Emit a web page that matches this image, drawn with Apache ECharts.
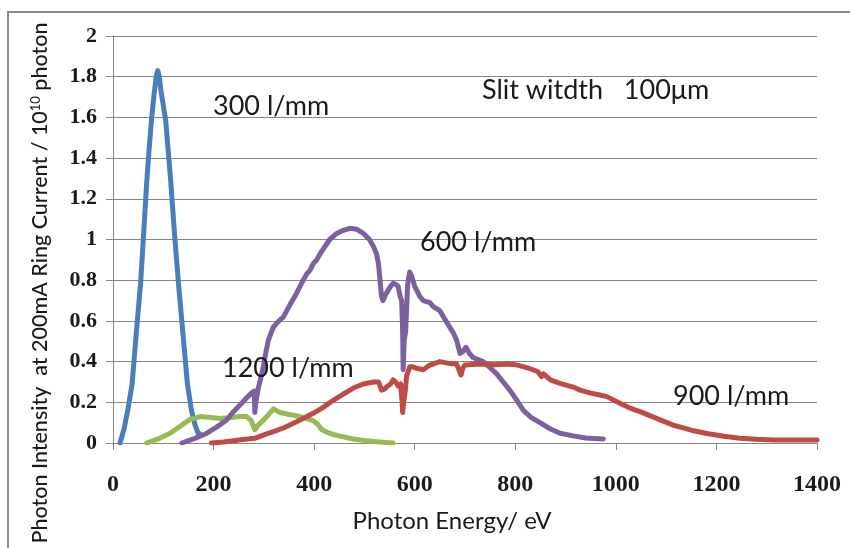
<!DOCTYPE html>
<html><head><meta charset="utf-8">
<script src="https://cdn.jsdelivr.net/npm/echarts@6/dist/echarts.min.js"></script>
<style>html,body{margin:0;padding:0;background:#fff}#c{width:850px;height:548px}</style>
</head><body><div id="c"></div>
<script>
// ---- data ----
const xTicks = [0, 200, 400, 600, 800, 1000, 1200, 1400];
const yTicks = [0, 0.2, 0.4, 0.6, 0.8, 1, 1.2, 1.4, 1.6, 1.8, 2];

const e300 = [14, 22, 30, 38, 46, 55, 61, 67, 72, 77, 82, 86, 89, 92, 96, 100, 105, 110, 115, 122, 130, 139, 148, 156, 163, 169, 175];
const v300 = [0, 0.07, 0.17, 0.29, 0.53, 0.79, 1.03, 1.28, 1.45, 1.6, 1.72, 1.8, 1.83, 1.8, 1.72, 1.66, 1.58, 1.43, 1.28, 1.04, 0.79, 0.54, 0.29, 0.16, 0.09, 0.05, 0.04];

const e1200 = [67, 90, 115, 135, 153, 173, 195, 213, 235, 252, 266, 275, 282, 289, 298, 306, 313, 319, 326, 332, 350, 372, 385, 398, 408, 415, 430, 451, 478, 504, 530, 557];
const v1200 = [0, 0.02, 0.05, 0.085, 0.116, 0.13, 0.125, 0.12, 0.125, 0.13, 0.13, 0.11, 0.065, 0.088, 0.11, 0.13, 0.15, 0.168, 0.158, 0.15, 0.14, 0.13, 0.12, 0.11, 0.09, 0.066, 0.048, 0.034, 0.02, 0.011, 0.005, 0];

const e600 = [137, 160, 186, 206, 226, 240, 252, 265, 275, 281, 282, 284, 289, 294, 299, 304, 309, 319, 330, 339, 352, 365, 375, 385, 392, 398, 405, 412, 420, 431, 445, 458, 471, 485, 498, 510, 518, 524, 528, 531, 534, 537, 542, 547, 552, 557, 562, 567, 571, 574, 576, 577, 579, 582, 586, 590, 594, 600, 604, 610, 617, 630, 637, 650, 657, 667, 677, 684, 690, 696, 702, 709, 716, 726, 736, 750, 763, 776, 789, 803, 816, 832, 849, 869, 889, 915, 940, 975];
const v600 = [0, 0.02, 0.047, 0.078, 0.113, 0.155, 0.185, 0.22, 0.245, 0.255, 0.15, 0.2, 0.27, 0.32, 0.375, 0.445, 0.506, 0.57, 0.6, 0.62, 0.68, 0.735, 0.785, 0.83, 0.85, 0.88, 0.9, 0.93, 0.96, 1.0, 1.03, 1.045, 1.055, 1.05, 1.03, 1.0, 0.965, 0.93, 0.88, 0.8, 0.72, 0.7, 0.73, 0.75, 0.77, 0.785, 0.78, 0.77, 0.72, 0.7, 0.55, 0.36, 0.5, 0.55, 0.78, 0.84, 0.82, 0.77, 0.75, 0.72, 0.7, 0.69, 0.67, 0.65, 0.62, 0.58, 0.54, 0.5, 0.44, 0.45, 0.47, 0.44, 0.42, 0.41, 0.4, 0.37, 0.34, 0.3, 0.26, 0.21, 0.16, 0.125, 0.1, 0.07, 0.048, 0.035, 0.025, 0.02];

const e900 = [196, 220, 250, 282, 300, 319, 340, 359, 378, 398, 418, 438, 458, 478, 498, 518, 528, 534, 540, 546, 552, 557, 562, 567, 572, 575, 576, 578, 581, 584, 590, 595, 604, 617, 630, 650, 670, 683, 688, 692, 696, 700, 730, 760, 783, 800, 816, 835, 845, 852, 856, 870, 889, 915, 929, 950, 968, 982, 1008, 1030, 1048, 1081, 1114, 1150, 1181, 1215, 1247, 1280, 1313, 1350, 1400];
const v900 = [0, 0.005, 0.015, 0.023, 0.04, 0.056, 0.075, 0.097, 0.12, 0.146, 0.175, 0.21, 0.24, 0.27, 0.29, 0.3, 0.3, 0.26, 0.265, 0.28, 0.29, 0.31, 0.3, 0.28, 0.29, 0.2, 0.15, 0.2, 0.25, 0.33, 0.375, 0.375, 0.367, 0.36, 0.383, 0.4, 0.39, 0.39, 0.36, 0.334, 0.37, 0.383, 0.388, 0.385, 0.388, 0.385, 0.375, 0.36, 0.35, 0.326, 0.34, 0.31, 0.293, 0.275, 0.26, 0.245, 0.236, 0.228, 0.195, 0.17, 0.154, 0.121, 0.088, 0.063, 0.047, 0.033, 0.023, 0.018, 0.015, 0.015, 0.015];

const labels = ['300 l/mm', '600 l/mm', '900 l/mm', '1200 l/mm'];
const noteText = 'Slit witdth   100\u03bcm';
const xTitle = 'Photon Energy/ eV';
const yTitleParts = ['Photon Intensity  at 200mA Ring Current / 10', '10', ' photon'];

// ---- build ----
const zip = (a, b) => a.map((x, i) => [x, b[i]]);
const FONT = 'Lato';
const gray = '#868686';
const ink = '#1a1a1a';

function line(name, e, v, color) {
  return { name, type: 'line', data: zip(e, v), showSymbol: false, symbol: 'none',
    lineStyle: { color, width: 5, join: 'round', cap: 'round' }, itemStyle: { color },
    animation: false, z: 3 };
}
function anno(text, x, y, size) {
  return { type: 'text', x, y, z: 10, silent: true,
    style: { text, fill: ink, fontFamily: FONT, fontSize: size, verticalAlign: 'middle', align: 'left' } };
}

const chart = echarts.init(document.getElementById('c'), null, { renderer: 'canvas' });
chart.setOption({
  backgroundColor: '#fff',
  animation: false,
  grid: { left: 113, right: 33, top: 36, bottom: 105, containLabel: false },
  xAxis: {
    type: 'value', min: 0, max: 1400, interval: 200,
    name: xTitle, nameLocation: 'middle', nameGap: 66,
    nameTextStyle: { fontFamily: FONT, fontSize: 24, color: ink, padding: [0, 26, 0, 0] },
    axisLine: { show: true, lineStyle: { color: gray, width: 1 } },
    axisTick: { show: true, inside: false, length: 7, lineStyle: { color: gray } },
    axisLabel: { margin: 30, fontFamily: 'Liberation Serif', fontWeight: 'bold', fontSize: 24, color: ink,
      formatter: v => xTicks.includes(v) ? String(v) : '' },
    splitLine: { show: false }
  },
  yAxis: {
    type: 'value', min: 0, max: 2, interval: 0.2,
    axisLine: { show: true, lineStyle: { color: gray, width: 1 } },
    axisTick: { show: true, inside: false, length: 7, lineStyle: { color: gray } },
    axisLabel: { margin: 16, fontFamily: 'Liberation Serif', fontWeight: 'bold', fontSize: 22, color: ink,
      formatter: v => { const t = yTicks.find(k => Math.abs(k - v) < 1e-9); return t === undefined ? '' : String(t); } },
    splitLine: { show: true, lineStyle: { color: gray, width: 1 } }
  },
  series: [
    line(labels[0], e300, v300, '#4a7ebb'),
    line(labels[3], e1200, v1200, '#98b954'),
    line(labels[1], e600, v600, '#7d60a0'),
    line(labels[2], e900, v900, '#be4b48')
  ],
  graphic: [
    { type: 'rect', shape: { x: 8, y: 12, width: 1200, height: 1000 }, style: { fill: 'none', stroke: '#8c8c8c', lineWidth: 2 }, silent: true, z: 0 },
    { type: 'text', x: 40, y: 283, rotation: Math.PI / 2, z: 10, silent: true,
      style: { text: '{a|' + yTitleParts[0] + '}{s|' + yTitleParts[1] + '}{a|' + yTitleParts[2] + '}',
        align: 'center', verticalAlign: 'middle',
        rich: { a: { fontFamily: FONT, fontSize: 21.5, fill: ink, fontWeight: 500 },
                s: { fontFamily: FONT, fontSize: 13, fill: ink, verticalAlign: 'top' } } } },
    anno(labels[0], 213, 106, 27),
    anno(noteText, 482, 90, 27),
    anno(labels[1], 420, 242, 27),
    anno(labels[3], 222, 368, 27),
    anno(labels[2], 673, 396, 27)
  ]
});
</script></body></html>
